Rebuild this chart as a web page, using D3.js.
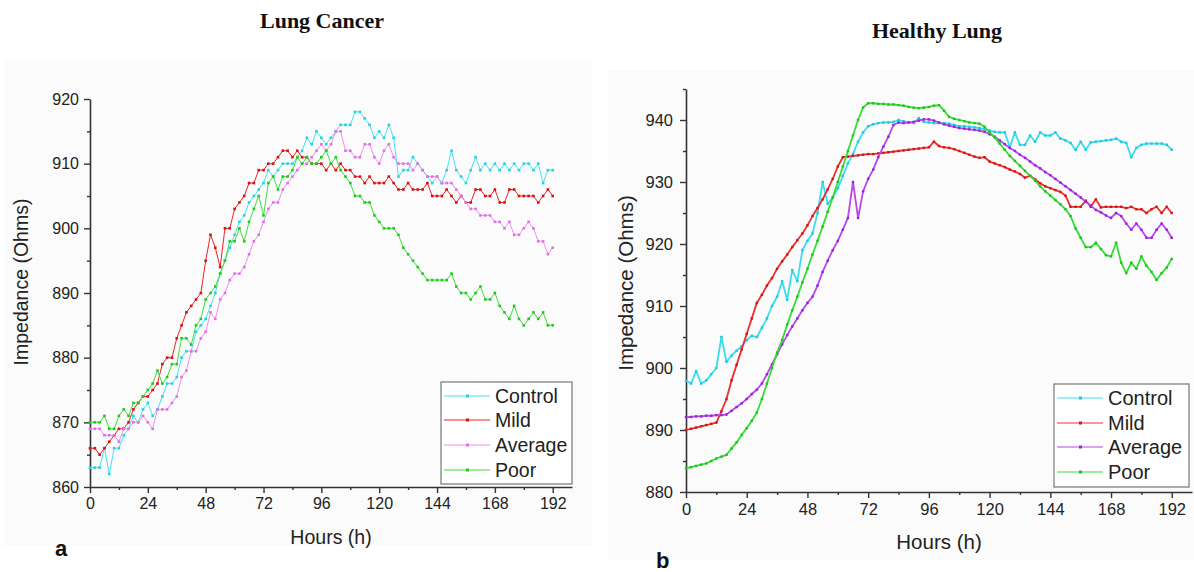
<!DOCTYPE html>
<html>
<head>
<meta charset="utf-8">
<script src="https://cdn.jsdelivr.net/npm/d3@7"></script>
<style>
  html, body { margin: 0; padding: 0; background: #fff; }
  svg { display: block; font-family: "Liberation Sans", Arial, sans-serif; }
</style>
</head>
<body>
<svg id="chart" width="1194" height="572"></svg>
<script>
// --- DATA ---
const seriesNames = ["Control", "Mild", "Average", "Poor"];

const hours = [0, 2, 4, 6, 8, 10, 12, 14, 16, 18, 20, 22, 24, 26, 28, 30, 32, 34, 36, 38,
  40, 42, 44, 46, 48, 50, 52, 54, 56, 58, 60, 62, 64, 66, 68, 70, 72, 74, 76, 78,
  80, 82, 84, 86, 88, 90, 92, 94, 96, 98, 100, 102, 104, 106, 108, 110, 112, 114, 116, 118,
  120, 122, 124, 126, 128, 130, 132, 134, 136, 138, 140, 142, 144, 146, 148, 150, 152, 154, 156, 158,
  160, 162, 164, 166, 168, 170, 172, 174, 176, 178, 180, 182, 184, 186, 188, 190, 192];

// Lung cancer panel (a)
const lungControl = [863, 863, 863, 866, 862, 866, 866, 868, 869, 871, 870, 872, 873, 871, 872, 874, 876, 876, 877, 880,
  881, 881, 884, 885, 886, 888, 890, 893, 895, 897, 899, 901, 902, 904, 905, 906, 907, 909, 908, 909,
  910, 910, 910, 911, 912, 914, 913, 915, 914, 913, 914, 915, 916, 916, 916, 918, 918, 917, 916, 914,
  915, 914, 916, 914, 908, 909, 909, 911, 910, 909, 908, 907, 908, 907, 909, 912, 909, 908, 907, 909,
  911, 909, 910, 909, 910, 909, 910, 909, 910, 909, 910, 910, 909, 910, 907, 909, 909];
const lungMild = [866, 866, 865, 866, 867, 868, 869, 869, 870, 872, 873, 874, 874, 875, 876, 879, 880, 880, 883, 885,
  887, 888, 889, 890, 895, 899, 897, 894, 900, 900, 903, 904, 905, 907, 907, 909, 909, 910, 910, 911,
  912, 912, 911, 912, 911, 911, 910, 910, 910, 909, 910, 909, 910, 909, 909, 908, 908, 907, 908, 907,
  907, 907, 908, 907, 906, 906, 907, 906, 906, 906, 907, 905, 905, 905, 906, 905, 904, 905, 904, 904,
  906, 906, 905, 905, 906, 904, 904, 906, 906, 905, 905, 905, 905, 904, 905, 906, 905];
const lungAverage = [869, 869, 869, 868, 868, 868, 867, 869, 869, 870, 870, 871, 870, 869, 872, 872, 872, 873, 874, 877,
  878, 881, 881, 883, 884, 887, 886, 889, 890, 892, 893, 893, 894, 896, 898, 899, 901, 903, 904, 904,
  906, 907, 908, 909, 910, 910, 911, 912, 913, 912, 913, 915, 915, 912, 912, 911, 911, 913, 913, 911,
  910, 912, 913, 911, 910, 910, 910, 909, 910, 909, 908, 908, 908, 907, 907, 907, 906, 905, 904, 903,
  903, 902, 902, 902, 901, 901, 900, 901, 899, 899, 900, 901, 900, 898, 898, 896, 897];
const lungPoor = [870, 870, 870, 871, 869, 869, 871, 872, 871, 873, 873, 874, 875, 876, 878, 876, 877, 879, 879, 883,
  883, 882, 885, 886, 889, 890, 891, 893, 895, 898, 898, 900, 898, 901, 903, 905, 902, 907, 908, 906,
  908, 908, 909, 911, 910, 911, 910, 910, 911, 912, 910, 911, 909, 908, 907, 905, 905, 904, 904, 902,
  901, 900, 900, 900, 899, 897, 896, 895, 894, 893, 892, 892, 892, 892, 892, 893, 891, 890, 890, 889,
  890, 891, 889, 889, 890, 888, 887, 886, 888, 886, 885, 886, 887, 886, 887, 885, 885];

// Healthy lung panel (b)
const healthyControl = [898, 897.5, 899.5, 897.5, 898, 899, 900, 905, 901, 902, 902.8, 903.5, 904.5, 905.2, 905, 906.5, 908, 910, 911.5, 914,
  911, 915.8, 914, 919, 920.5, 921.7, 925, 930, 926.5, 927.5, 929, 931, 933, 934.5, 936.5, 938, 939, 939.3, 939.5, 939.6,
  939.6, 939.7, 940, 939.8, 939.6, 939.5, 940.3, 939.7, 939.6, 939.5, 939.5, 939.5, 939.4, 939.2, 939, 939, 938.9, 938.8, 938.7, 938.5,
  938.3, 938.1, 938, 938, 935.6, 938, 936, 936, 937.5, 936.5, 938, 937.5, 937.5, 938, 937, 936.7, 936.3, 935.2, 936.5, 935.2,
  936.4, 936.5, 936.6, 936.7, 936.8, 937, 936.5, 936.3, 934, 935.5, 936, 936.2, 936.2, 936.2, 936.2, 936, 935.2];
const healthyMild = [890, 890.2, 890.4, 890.6, 890.8, 891, 891.2, 893, 895, 898, 900.5, 903, 905.5, 908, 910.5, 911.8, 913.3, 914.5, 916, 917.2,
  918.3, 919.5, 920.6, 921.7, 923, 924.5, 925.8, 927.2, 928.8, 930.5, 932.5, 934, 934.1, 934.2, 934.3, 934.4, 934.5, 934.5, 934.6, 934.7,
  934.8, 934.9, 935, 935.1, 935.2, 935.3, 935.4, 935.5, 935.6, 936.5, 935.8, 935.6, 935.5, 935.3, 935, 934.7, 934.4, 934.1, 933.9, 934,
  933.3, 933, 932.7, 932.4, 932, 931.7, 931.3, 930.7, 931, 930.4, 929.8, 929.3, 929, 928.7, 928.4, 927.8, 926, 926, 926, 927,
  926, 927.2, 925.9, 926, 926, 926, 926, 925.8, 926, 925.6, 925.6, 925, 925.6, 926, 925, 926, 925];
const healthyAverage = [892.1, 892.1, 892.2, 892.2, 892.3, 892.3, 892.4, 892.4, 892.5, 893.1, 893.7, 894.3, 895, 895.8, 896.5, 897.5, 899, 900.6, 902.2, 903.8,
  905.3, 906.7, 908, 909.3, 910.5, 911.5, 913.3, 915.5, 917.3, 919, 920.5, 922.3, 924.2, 930, 924.2, 928.5, 930.5, 932, 934, 935.7,
  937.3, 939.2, 939.6, 939.5, 939.6, 939.7, 939.9, 940.1, 940.1, 939.9, 939.6, 939.3, 939.1, 938.9, 938.7, 938.6, 938.5, 938.4, 938.3, 938.1,
  937.7, 937.3, 936.7, 936.1, 935.5, 935, 934.4, 933.9, 933.3, 932.7, 932.2, 931.6, 931.1, 930.5, 929.9, 929.3, 928.7, 928.1, 927.5, 926.8,
  926.2, 925.5, 925.1, 924.6, 924.2, 925, 924.5, 923.3, 922.3, 923.3, 922.3, 921, 921, 922.3, 923.3, 922.3, 921];
const healthyPoor = [883.8, 884, 884.2, 884.4, 884.6, 885, 885.4, 885.7, 886, 887, 888, 889.2, 890.3, 891.5, 892.8, 895, 897.5, 900, 902.5, 904.5,
  907, 909.3, 911.5, 913.8, 916, 918.3, 920.5, 922.8, 925.2, 927.5, 930, 932.5, 935, 937.5, 940, 942, 942.7, 942.7, 942.6, 942.6,
  942.5, 942.5, 942.4, 942.3, 942.1, 942, 941.9, 942, 942.1, 942.3, 942.4, 941.5, 940.5, 940.2, 940, 939.8, 939.6, 939.5, 939.4, 938.9,
  938, 937.2, 936.2, 935.2, 934.2, 933.4, 932.6, 931.8, 931, 930.2, 929.3, 928.5, 927.8, 927.1, 926.4, 925.6, 924.5, 922.5, 921, 919.5,
  919.5, 920.2, 919.2, 918.2, 918, 920.2, 917, 915.3, 917, 916, 918, 916.5, 915.5, 914.2, 915.3, 916.2, 917.6];

const xMajorTicks = [0, 24, 48, 72, 96, 120, 144, 168, 192];
const xMinorTicks = [12, 36, 60, 84, 108, 132, 156, 180];
const lungYTicks = [860, 870, 880, 890, 900, 910, 920];
const lungYMinor = [865, 875, 885, 895, 905, 915];
const healthyYTicks = [880, 890, 900, 910, 920, 930, 940];
const healthyYMinor = [885, 895, 905, 915, 925, 935, 945];

// --- STYLE ---
const lungColors = ["#48e2f0", "#ea2424", "#f08ef0", "#3ede3a"];
const lungMarks  = ["#2ad0e2", "#d81010", "#e070e6", "#22c822"];
const healthyColors = ["#3adcef", "#ea3030", "#b848ea", "#36dc36"];
const healthyMarks  = ["#1fc8de", "#d01818", "#9a22d8", "#1cc41c"];

const svg = d3.select("#chart");

// faint panel backgrounds
svg.append("rect").attr("x", 4).attr("y", 60).attr("width", 588).attr("height", 486).attr("fill", "#fbfbfb");
svg.append("rect").attr("x", 608).attr("y", 70).attr("width", 586).attr("height", 490).attr("fill", "#fbfbfb");

function drawPanel(cfg) {
  const x = d3.scaleLinear().domain([0, 200]).range([cfg.left, cfg.right]);
  const y = d3.scaleLinear().domain(cfg.yDomain).range([cfg.bottom, cfg.top]);
  const g = svg.append("g");

  // axes
  const axisColor = "#333";
  const xAxis = g.append("g").attr("transform", `translate(0,${cfg.bottom})`)
    .call(d3.axisBottom(x).tickValues(xMajorTicks).tickSize(6).tickSizeOuter(0).tickPadding(5));
  g.append("g").attr("transform", `translate(0,${cfg.bottom})`)
    .call(d3.axisBottom(x).tickValues(xMinorTicks).tickSize(3).tickFormat("").tickSizeOuter(0))
    .select(".domain").remove();
  const yAxis = g.append("g").attr("transform", `translate(${cfg.left},0)`)
    .call(d3.axisLeft(y).tickValues(cfg.yTicks).tickSize(6).tickSizeOuter(0).tickPadding(cfg.yPad));
  g.append("g").attr("transform", `translate(${cfg.left},0)`)
    .call(d3.axisLeft(y).tickValues(cfg.yMinor).tickSize(3).tickFormat("").tickSizeOuter(0))
    .select(".domain").remove();

  g.selectAll(".domain").attr("stroke", axisColor).attr("stroke-width", 1.6);
  g.selectAll(".tick line").attr("stroke", axisColor).attr("stroke-width", 1.4);
  g.selectAll(".tick text").attr("fill", "#222")
    .style("font-size", cfg.tickFont + "px").style("font-family", "'Liberation Sans', Arial, sans-serif");

  // series
  const line = d3.line().x((d, i) => x(hours[i])).y(d => y(d));
  cfg.series.forEach((vals, si) => {
    g.append("path").datum(vals)
      .attr("fill", "none")
      .attr("stroke", cfg.colors[si])
      .attr("stroke-width", cfg.lineWidth)
      .attr("stroke-linejoin", "round")
      .attr("d", line);
    const ms = cfg.markerSize;
    g.selectAll(null).data(vals).enter().append("rect")
      .attr("x", (d, i) => x(hours[i]) - ms / 2)
      .attr("y", d => y(d) - ms / 2)
      .attr("width", ms).attr("height", ms)
      .attr("fill", cfg.marks[si]);
  });

  // legend
  const lg = cfg.legend;
  g.append("rect").attr("x", lg.x).attr("y", lg.y).attr("width", lg.w).attr("height", lg.h)
    .attr("fill", "#fff").attr("stroke", "#777").attr("stroke-width", 1.2);
  seriesNames.forEach((name, i) => {
    const ry = lg.rows[i];
    g.append("line").attr("x1", lg.x + 3).attr("x2", lg.x + 49).attr("y1", ry).attr("y2", ry)
      .attr("stroke", cfg.colors[i]).attr("stroke-width", 1.2);
    g.append("rect").attr("x", lg.x + 25).attr("y", ry - 1.5).attr("width", 3).attr("height", 3)
      .attr("fill", cfg.marks[i]);
    g.append("text").attr("x", lg.x + 54).attr("y", ry + 7)
      .style("font-size", lg.font + "px").attr("fill", "#222").text(name);
  });

  // axis titles
  g.append("text").attr("x", (cfg.left + cfg.right) / 2).attr("y", cfg.xlabY)
    .attr("text-anchor", "middle").style("font-size", cfg.labelFont + "px").attr("fill", "#222")
    .text("Hours (h)");
  g.append("text").attr("transform", `translate(${cfg.ylabX},${cfg.ylabY}) rotate(-90)`)
    .attr("text-anchor", "middle").style("font-size", cfg.labelFont + "px").attr("fill", "#222")
    .text("Impedance (Ohms)");

  // panel title and letter
  svg.append("text").attr("x", cfg.titleX).attr("y", cfg.titleY)
    .attr("text-anchor", "middle")
    .style("font-family", "'Liberation Serif', 'Times New Roman', serif")
    .style("font-weight", "bold").style("font-size", "22px").attr("fill", "#111")
    .text(cfg.title);
  svg.append("text").attr("x", cfg.letterX).attr("y", cfg.letterY)
    .style("font-weight", "bold").style("font-size", "22px").attr("fill", "#111")
    .text(cfg.letter);
}

drawPanel({
  left: 90, right: 572, top: 99, bottom: 487,
  yDomain: [860, 920], yTicks: lungYTicks, yMinor: lungYMinor, yPad: 5,
  series: [lungControl, lungMild, lungAverage, lungPoor],
  colors: lungColors, marks: lungMarks, lineWidth: 1, markerSize: 2.6,
  tickFont: 16, labelFont: 19.5,
  legend: { x: 441, y: 382, w: 131, h: 102, rows: [396, 420, 445, 470], font: 19.5 },
  xlabY: 544, ylabX: 28, ylabY: 282,
  title: "Lung Cancer", titleX: 322, titleY: 28,
  letter: "a", letterX: 55, letterY: 556
});

drawPanel({
  left: 686, right: 1192, top: 89, bottom: 492,
  yDomain: [880, 945], yTicks: healthyYTicks, yMinor: healthyYMinor, yPad: 7,
  series: [healthyControl, healthyMild, healthyAverage, healthyPoor],
  colors: healthyColors, marks: healthyMarks, lineWidth: 1.8, markerSize: 2.4,
  tickFont: 16.5, labelFont: 20.5,
  legend: { x: 1054, y: 384, w: 135, h: 103, rows: [398, 423, 447, 472], font: 20 },
  xlabY: 549, ylabX: 633, ylabY: 283,
  title: "Healthy Lung", titleX: 937, titleY: 38,
  letter: "b", letterX: 656, letterY: 568
});
</script>
</body>
</html>
